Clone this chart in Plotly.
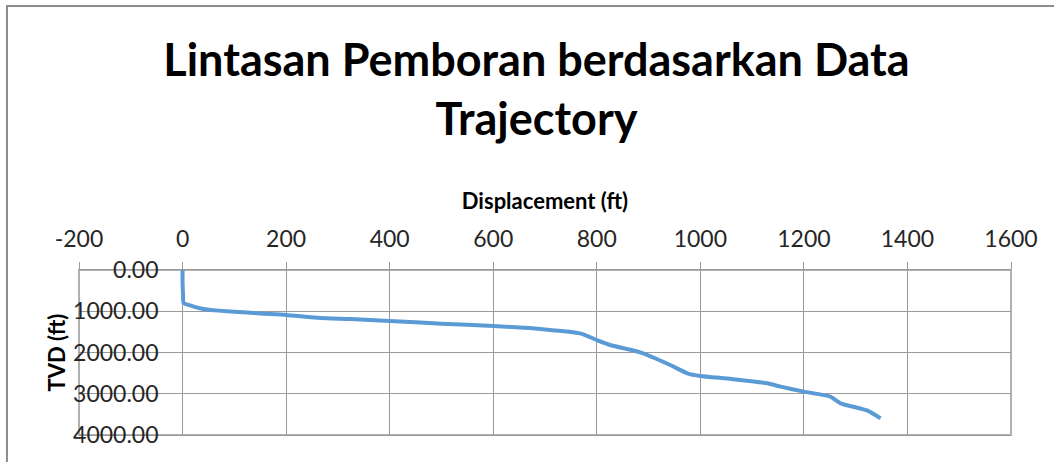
import plotly.graph_objects as go

# trajectory
displacement_ft = [0, 0, 1, 2, 20, 40, 70, 100, 150, 200, 266, 324, 400, 500, 600,
                   700, 768, 800, 826, 884, 942, 975, 1000, 1060, 1129, 1155, 1200,
                   1251, 1271, 1323, 1348]
tvd_ft = [0, 300, 600, 800, 880, 945, 985, 1010, 1055, 1090, 1165, 1188, 1236, 1300, 1357,
          1440, 1535, 1697, 1818, 1996, 2303, 2505, 2570, 2640, 2747, 2828, 2949,
          3070, 3232, 3410, 3596]

x_tick_vals = [-200, 0, 200, 400, 600, 800, 1000, 1200, 1400, 1600]
x_tick_labels = ["-200", "0", "200", "400", "600", "800", "1000", "1200", "1400", "1600"]

x_range = [-200, 1600]
y_range = [4000, 0]

title_text = "Lintasan Pemboran berdasarkan Data<br>Trajectory"
x_title = "Displacement (ft)"
y_title = "TVD (ft)"

FONT = "Lato"
GRID = "#9a9a9a"
TEXT = "#262626"

fig = go.Figure(
    go.Scatter(
        x=displacement_ft,
        y=tvd_ft,
        mode="lines",
        line=dict(color="#5B9BD5", width=4, shape="spline", smoothing=0.5),
        showlegend=False,
    )
)

# y axis crosses the x axis at 0, as in the spreadsheet chart
y_pos = (0 - x_range[0]) / (x_range[1] - x_range[0])

fig.update_layout(
    width=1054,
    height=462,
    margin=dict(l=79, r=43, t=270, b=27, autoexpand=False),
    paper_bgcolor="white",
    plot_bgcolor="white",
    font=dict(family=FONT, color=TEXT),
    title=dict(
        text=title_text,
        font=dict(family=FONT, size=45, color="black", weight="bold"),
        x=0.509,
        xref="container",
        xanchor="center",
        y=0.835,
        yref="container",
        yanchor="middle",
    ),
    xaxis=dict(
        range=x_range,
        tickmode="array",
        tickvals=x_tick_vals,
        ticktext=x_tick_labels,
        side="top",
        automargin=False,
        showgrid=True,
        gridcolor=GRID,
        gridwidth=1,
        zeroline=False,
        showline=True,
        linecolor=GRID,
        mirror=True,
        ticks="outside",
        ticklen=7,
        tickcolor=GRID,
        ticklabelstandoff=6,
        tickfont=dict(size=23, color=TEXT),
        title=dict(text=x_title, font=dict(size=22, color="black", weight="bold"), standoff=8),
    ),
    yaxis=dict(
        range=y_range,
        dtick=1000,
        tickformat=".2f",
        anchor="free",
        position=y_pos,
        automargin=False,
        showgrid=True,
        gridcolor=GRID,
        gridwidth=1,
        zeroline=False,
        showline=False,
        ticks="",
        ticklabelstandoff=24,
        tickfont=dict(size=23, color=TEXT),
        title=dict(text=y_title, font=dict(size=22, color="black", weight="bold"), standoff=0),
    ),
    shapes=[
        # outer chart border
        dict(type="rect", xref="paper", yref="paper",
             x0=-0.0773, x1=1.05, y0=-0.25, y1=2.6,
             line=dict(color="#8c8c8c", width=2), layer="below"),
        # plot area frame
        dict(type="rect", xref="paper", yref="paper", x0=0, x1=1, y0=0, y1=1,
             line=dict(color="#b0b0b0", width=2), layer="below"),
    ],
)

fig.write_html(
    "out.html",
    config={"displayModeBar": False},
    post_script="document.body.style.margin = '0';",
)
